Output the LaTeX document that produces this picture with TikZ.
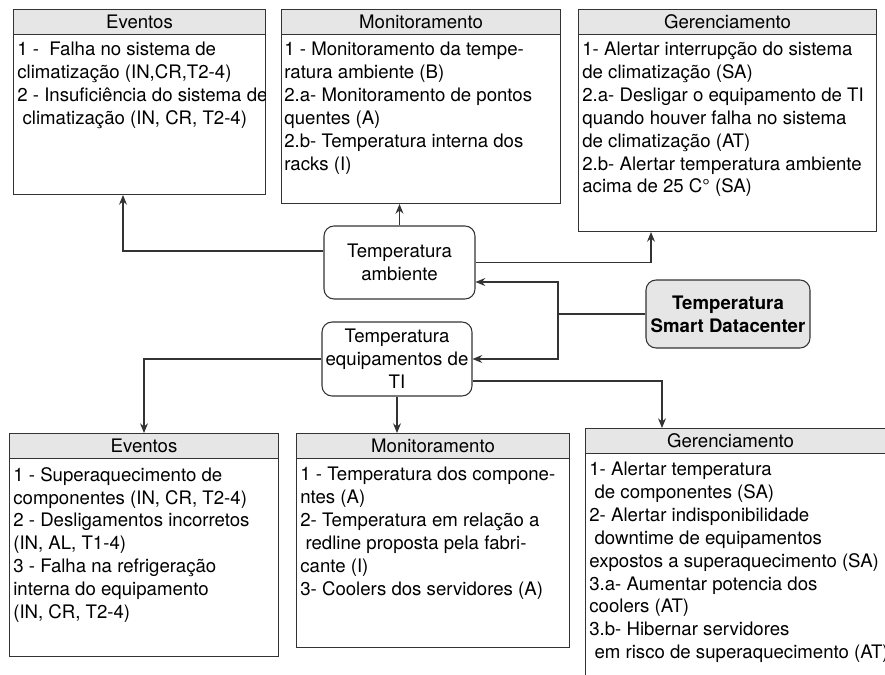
\documentclass[tikz,border=0pt]{standalone}
\usepackage{fontspec}
\setmainfont{TeX Gyre Heros}
\usetikzlibrary{arrows.meta}
\definecolor{headgray}{HTML}{E6E6E6}
\definecolor{edgegray}{HTML}{333333}
\newcommand\boxfont{\fontsize{10.6}{13}\selectfont}
\newcommand\padsp{\hspace*{0.28em}}
\tikzset{
  lane/.style={draw=edgegray, line width=0.6pt, rectangle, anchor=north west, inner sep=0pt},
  lanehead/.style={draw=edgegray, fill=headgray, line width=0.6pt, anchor=north west, inner sep=0pt, minimum height=0.5cm, font=\boxfont},
  lanetext/.style={anchor=north west, inner sep=0pt, align=left, font=\boxfont},
  topic/.style={draw=edgegray, line width=0.6pt, rounded corners=0.2cm, align=center, inner sep=0pt, font=\boxfont},
  link/.style={draw=edgegray, line width=0.6pt, -{Stealth[length=5.5pt,width=4.5pt]}}
}
\begin{document}
\begin{tikzpicture}[x=0.02cm, y=-0.02cm]
                \useasboundingbox (0,0) rectangle (885,675);

                % Upper boxes
                \node [lane, minimum width=5.04cm, minimum height=3.70cm] (evtA) at (13,9) {};
                \node [lanehead, minimum width=5.04cm] (evtAh) at (evtA.north west) {Eventos};
                \begin{scope}
                \clip (13,9) rectangle (265,194);
                \node [lanetext] (evtAt) at (17,42) {1 -\ \ Falha no sistema de\\climatização (IN,CR,T2-4)\\2 - Insuficiência do sistema de\\\padsp climatização (IN, CR, T2-4)};
                \end{scope}

                \node [lane, minimum width=5.58cm, minimum height=3.88cm] (monA) at (281,9) {};
                \node [lanehead, minimum width=5.58cm] (monAh) at (monA.north west) {Monitoramento};
                \node [lanetext] (monAt) at (284,42) {1 - Monitoramento da tempe-\\ratura ambiente (B)\\2.a- Monitoramento de pontos\\quentes (A)\\2.b- Temperatura interna dos\\racks (I)};

                \node [lane, minimum width=5.96cm, minimum height=4.44cm] (gerA) at (578,9) {};
                \node [lanehead, minimum width=5.96cm] (gerAh) at (gerA.north west) {Gerenciamento};
                \node [lanetext] (gerAt) at (582,42) {1- Alertar interrupção do sistema\\de climatização (SA)\\2.a- Desligar o equipamento de TI\\quando houver falha no sistema\\de climatização (AT)\\2.b- Alertar temperatura ambiente\\acima de 25 C° (SA)};

                % Middle topics
                \node [topic, minimum width=3.02cm, minimum height=1.46cm] (amb) at (399.5,262.5) {Temperatura\\ambiente};
                \node [topic, minimum width=3.00cm, minimum height=1.48cm] (equip) at (397,359) {Temperatura\\equipamentos de\\TI};
                \node [topic, fill=headgray, minimum width=3.28cm, minimum height=1.36cm, font=\boxfont\bfseries] (smart) at (728,314) {Temperatura\\Smart Datacenter};

                % Lower boxes
                \node [lane, minimum width=5.38cm, minimum height=4.46cm] (evtB) at (9,433) {};
                \node [lanehead, minimum width=5.38cm] (evtBh) at (evtB.north west) {Eventos};
                \node [lanetext] (evtBt) at (13,467) {1 - Superaquecimento de\\componentes (IN, CR, T2-4)\\2 - Desligamentos incorretos\\(IN, AL, T1-4)\\3 - Falha na refrigeração\\interna do equipamento\\(IN, CR, T2-4)};

                \node [lane, minimum width=5.46cm, minimum height=4.28cm] (monB) at (296,433) {};
                \node [lanehead, minimum width=5.46cm] (monBh) at (monB.north west) {Monitoramento};
                \node [lanetext] (monBt) at (300,467) {1 - Temperatura dos compone-\\ntes (A)\\2- Temperatura em relação a\\\padsp redline proposta pela fabri-\\cante (I)\\3- Coolers dos servidores (A)};

                \node [lane, minimum width=6.40cm, minimum height=5.44cm] (gerB) at (585,428) {};
                \node [lanehead, minimum width=6.40cm] (gerBh) at (gerB.north west) {\hspace*{-0.6cm}Gerenciamento};
                \node [lanetext] (gerBt) at (589,462) {1- Alertar temperatura\\\padsp de componentes (SA)\\2- Alertar indisponibilidade\\\padsp downtime de equipamentos\\expostos a superaquecimento (SA)\\3.a- Aumentar potencia dos\\coolers (AT)\\3.b- Hibernar servidores\\\padsp em risco de superaquecimento (AT)};

                % Drawing links from Temperatura ambiente
                \draw [link] (amb.west |- 0,251) -| (evtA.south -| 123,0);
                \draw [link] (amb.north) -- (amb.north |- monA.south);
                \draw [link] (amb.east) -| (gerA.south -| 651,0);

                % Drawing links from Temperatura Smart Datacenter
                \coordinate (split) at (558,314);
                \draw [draw=edgegray, line width=0.6pt] (smart.west) -- (split);
                \draw [link] (split) |- (amb.east |- 0,282);
                \draw [link] (split) |- (equip.east);

                % Drawing links from Temperatura equipamentos de TI
                \draw [link] (equip.west) -| (evtB.north);
                \draw [link] (equip.south) -- (equip.south |- monB.north);
                \draw [link] (equip.east |- 0,381) -| (gerB.north -| 662,0);
\end{tikzpicture}
\end{document}
